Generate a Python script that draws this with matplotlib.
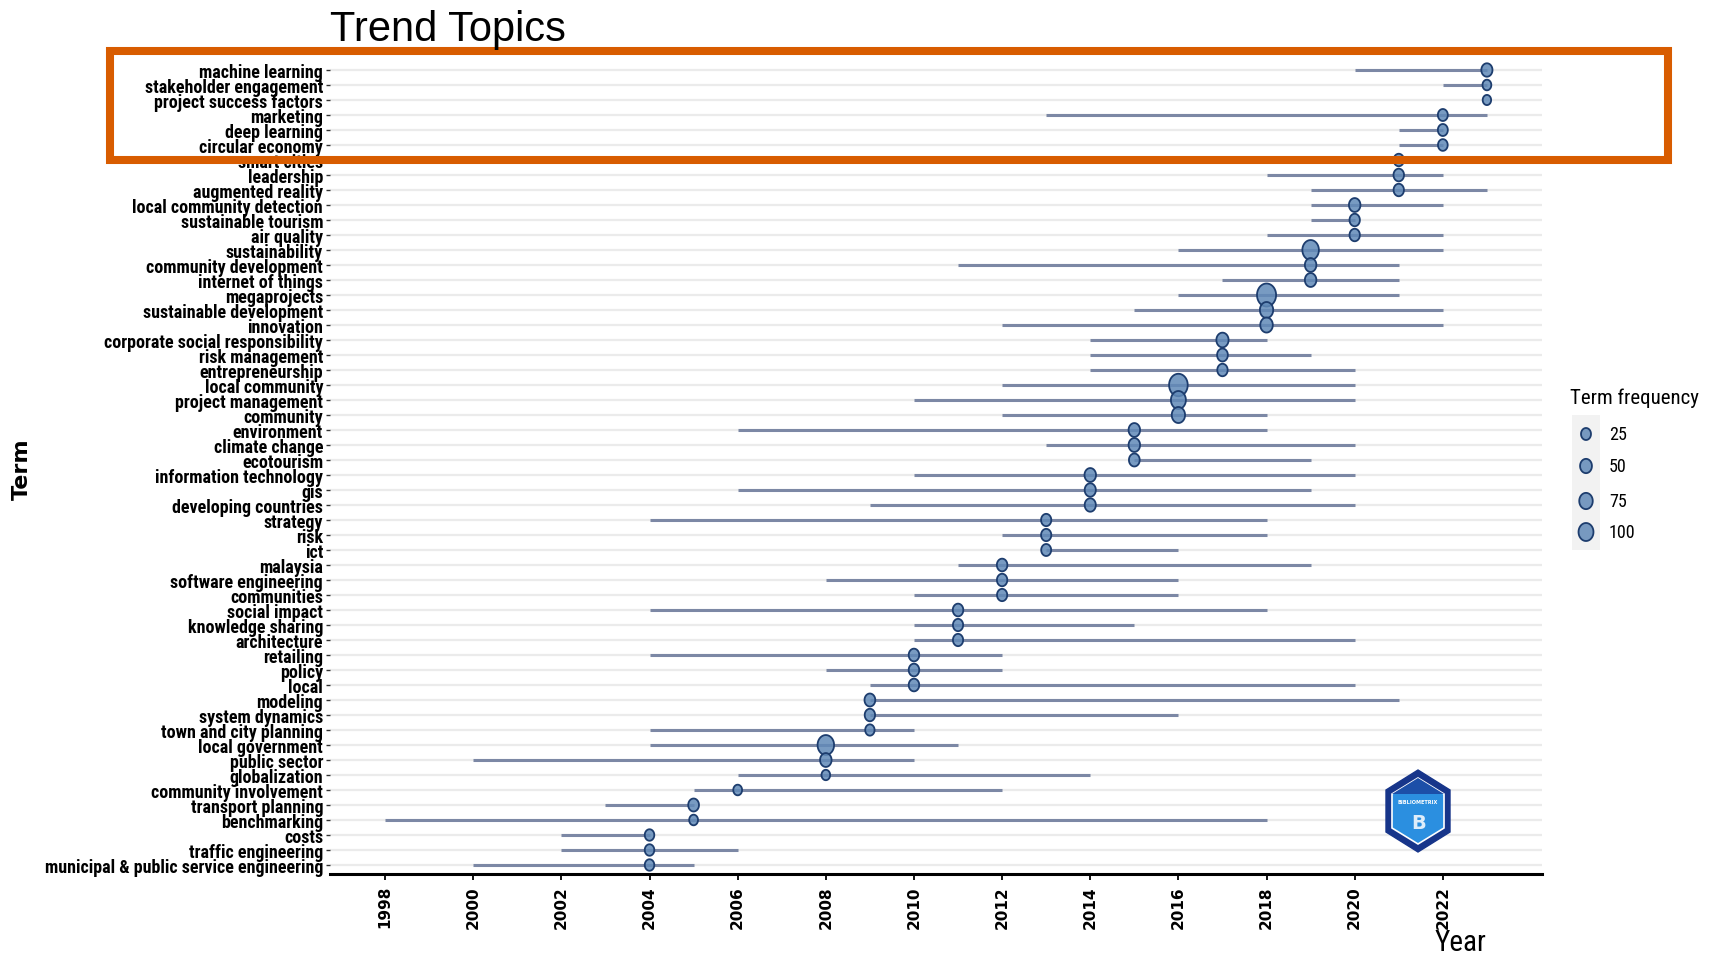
import os
import numpy as np
import matplotlib
matplotlib.use("Agg")
import matplotlib.pyplot as plt
from matplotlib.path import Path
from matplotlib.patches import Rectangle, Polygon
from matplotlib import font_manager as fm

# terms from top to bottom, with 1st quartile / median / 3rd quartile year and frequency
terms = ["machine learning", "stakeholder engagement", "project success factors", "marketing",
         "deep learning", "circular economy", "smart cities", "leadership", "augmented reality",
         "local community detection", "sustainable tourism", "air quality", "sustainability",
         "community development", "internet of things", "megaprojects", "sustainable development",
         "innovation", "corporate social responsibility", "risk management", "entrepreneurship",
         "local community", "project management", "community", "environment", "climate change",
         "ecotourism", "information technology", "gis", "developing countries", "strategy", "risk",
         "ict", "malaysia", "software engineering", "communities", "social impact",
         "knowledge sharing", "architecture", "retailing", "policy", "local", "modeling",
         "system dynamics", "town and city planning", "local government", "public sector",
         "globalization", "community involvement", "transport planning", "benchmarking", "costs",
         "traffic engineering", "municipal & public service engineering"]
year_q1 = [2020, 2022, 2023, 2013, 2021, 2021, 2021, 2018, 2019, 2019, 2019, 2018, 2016, 2011,
           2017, 2016, 2015, 2012, 2014, 2014, 2014, 2012, 2010, 2012, 2006, 2013, 2015, 2010,
           2006, 2009, 2004, 2012, 2013, 2011, 2008, 2010, 2004, 2010, 2010, 2004, 2008, 2009,
           2009, 2009, 2004, 2004, 2000, 2006, 2005, 2003, 1998, 2002, 2002, 2000]
year_med = [2023, 2023, 2023, 2022, 2022, 2022, 2021, 2021, 2021, 2020, 2020, 2020, 2019, 2019,
            2019, 2018, 2018, 2018, 2017, 2017, 2017, 2016, 2016, 2016, 2015, 2015, 2015, 2014,
            2014, 2014, 2013, 2013, 2013, 2012, 2012, 2012, 2011, 2011, 2011, 2010, 2010, 2010,
            2009, 2009, 2009, 2008, 2008, 2008, 2006, 2005, 2005, 2004, 2004, 2004]
year_q3 = [2023, 2023, 2023, 2023, 2022, 2022, 2021, 2022, 2023, 2022, 2020, 2022, 2022, 2021,
           2021, 2021, 2022, 2022, 2018, 2019, 2020, 2020, 2020, 2018, 2018, 2020, 2019, 2020,
           2019, 2020, 2018, 2018, 2016, 2019, 2016, 2016, 2018, 2015, 2020, 2012, 2012, 2020,
           2021, 2016, 2010, 2011, 2010, 2014, 2012, 2005, 2018, 2004, 2006, 2005]
freq = [40, 12, 8, 25, 25, 22, 30, 32, 30, 45, 30, 30, 130, 45, 45, 185, 72, 60, 55, 35, 30,
        175, 100, 72, 45, 45, 35, 45, 40, 40, 28, 28, 25, 32, 30, 28, 32, 28, 28, 32, 32, 32,
        35, 30, 18, 130, 45, 10, 12, 35, 12, 20, 20, 20]
year_ticks = list(range(1998, 2023, 2))
legend_vals = [25, 50, 75, 100]


# look for a narrow / condensed face, the reference text is quite compressed
def narrow_font(bold):
    prefs = ["liberationsansnarrow", "robotocondensed", "dejavusanscondensed", "opensanscondensed"]
    found = {}
    for f in fm.fontManager.ttflist:
        fn = os.path.basename(f.fname).lower().replace("-", "").replace("_", "")
        if "italic" in fn or "oblique" in fn:
            continue
        if ("bold" in fn) != bold:
            continue
        if "light" in fn or "medium" in fn or "semi" in fn or "extra" in fn or "black" in fn:
            continue
        for p in prefs:
            if fn.startswith(p):
                found.setdefault(p, f.fname)
    for p in prefs:
        if p in found:
            return fm.FontProperties(fname=found[p]), True
    return fm.FontProperties(family="Roboto", weight="bold" if bold else "normal"), False


fp_bold, have_narrow = narrow_font(True)
fp_reg, _ = narrow_font(False)
names = {f.name for f in fm.fontManager.ttflist}
regular = "Liberation Sans" if "Liberation Sans" in names else "DejaVu Sans"


def fp(base, size):
    p = base.copy()
    p.set_size(size)
    return p


W, H = 1709, 954
fig = plt.figure(figsize=(W / 100, H / 100), dpi=100)
ax = fig.add_axes([330 / W, 1 - 875 / H, 1212 / W, (875 - 62) / H])

n = len(terms)
ypos = np.arange(n)[::-1]

# vertically stretched bubbles like the reference
t = np.linspace(0, 2 * np.pi, 64)
ell = Path(np.column_stack([0.415 * np.cos(t), 0.5 * np.sin(t)]), closed=True)


def area(f):
    h = np.sqrt(84 + 2.4 * np.asarray(f, dtype=float))
    return (h * 0.72) ** 2


face = (0.38, 0.54, 0.72, 0.85)
edge = "#1D3D6E"

ax.hlines(ypos, year_q1, year_q3, color="#7C88A5", lw=2.2, zorder=2)
ax.scatter(year_med, ypos, s=area(freq), marker=ell, facecolor=face, edgecolor=edge,
           linewidth=1.3, zorder=3)

ax.set_xlim(1996.75, 2024.25)
ax.set_ylim(-0.6, n - 0.4)
ax.set_yticks(ypos)
ax.set_yticklabels(terms, fontproperties=fp(fp_bold, 13 if have_narrow else 10.5))
ax.set_xticks(year_ticks)
ax.set_xticklabels([str(y) for y in year_ticks], rotation=90, fontweight="bold",
                   fontfamily="DejaVu Sans", fontsize=11)
ax.tick_params(axis="y", length=3, width=1, color="#333333", pad=2)
ax.tick_params(axis="x", length=4, width=1.3, color="black", pad=4)
ax.grid(axis="y", color="#EBEBEB", lw=1.6)
ax.set_axisbelow(True)
for s in ["top", "right", "left"]:
    ax.spines[s].set_visible(False)
ax.spines["bottom"].set_linewidth(2.2)

# overlay for titles, legend, logo and highlight box (pixel coordinates)
ov = fig.add_axes([0, 0, 1, 1], zorder=5)
ov.set_xlim(0, W)
ov.set_ylim(H, 0)
ov.axis("off")
ov.patch.set_visible(False)

ov.text(330, 41, "Trend Topics", fontsize=30, fontfamily=regular, va="baseline", ha="left")
ov.text(22, 469, "Term", rotation=90, fontsize=16, fontweight="bold", fontfamily="DejaVu Sans",
        va="center", ha="center")
ov.text(1460, 951, "Year", fontproperties=fp(fp_reg, 21 if have_narrow else 17),
        va="baseline", ha="center")

# legend
ov.text(1570, 398, "Term frequency", fontproperties=fp(fp_reg, 15 if have_narrow else 12.5),
        va="center", ha="left")
ov.add_patch(Rectangle((1572, 416), 28, 135, color="#F2F2F2", lw=0))
leg_y = [435, 467, 502, 533]
ov.scatter([1586] * len(legend_vals), leg_y, s=area(legend_vals), marker=ell, facecolor=face,
           edgecolor=edge, linewidth=1.3)
for v, yy in zip(legend_vals, leg_y):
    ov.text(1609, yy, str(v), fontproperties=fp(fp_reg, 13 if have_narrow else 11),
            va="center", ha="left")

# bibliometrix logo
hexo = [(1418, 771), (1450, 791), (1450, 833), (1418, 853), (1386, 833), (1386, 791)]
ov.add_patch(Polygon(hexo, closed=True, facecolor="#17358A", edgecolor="#17358A", lw=1))
hexi = [(1418, 779), (1444, 795), (1444, 829), (1418, 845), (1392, 829), (1392, 795)]
ov.add_patch(Polygon(hexi, closed=True, facecolor="#2B8FE0", edgecolor="white", lw=1.2))
ov.add_patch(Polygon([(1418, 779), (1444, 795), (1392, 795)], closed=True,
                     facecolor="#1C4FA8", edgecolor="none"))
ov.text(1418, 803, "BIBLIOMETRIX", fontsize=3.6, color="white", fontweight="bold",
        ha="center", va="center")
ov.text(1419, 824, "B", fontsize=14, color="white", fontweight="bold", ha="center", va="center",
        alpha=0.85)

# highlight box
ov.add_patch(Rectangle((109.5, 52), 1668 - 109.5, 160.5 - 52, fill=False,
                       edgecolor="#D85C00", lw=5.8))

fig.savefig("out.png", dpi=100)
